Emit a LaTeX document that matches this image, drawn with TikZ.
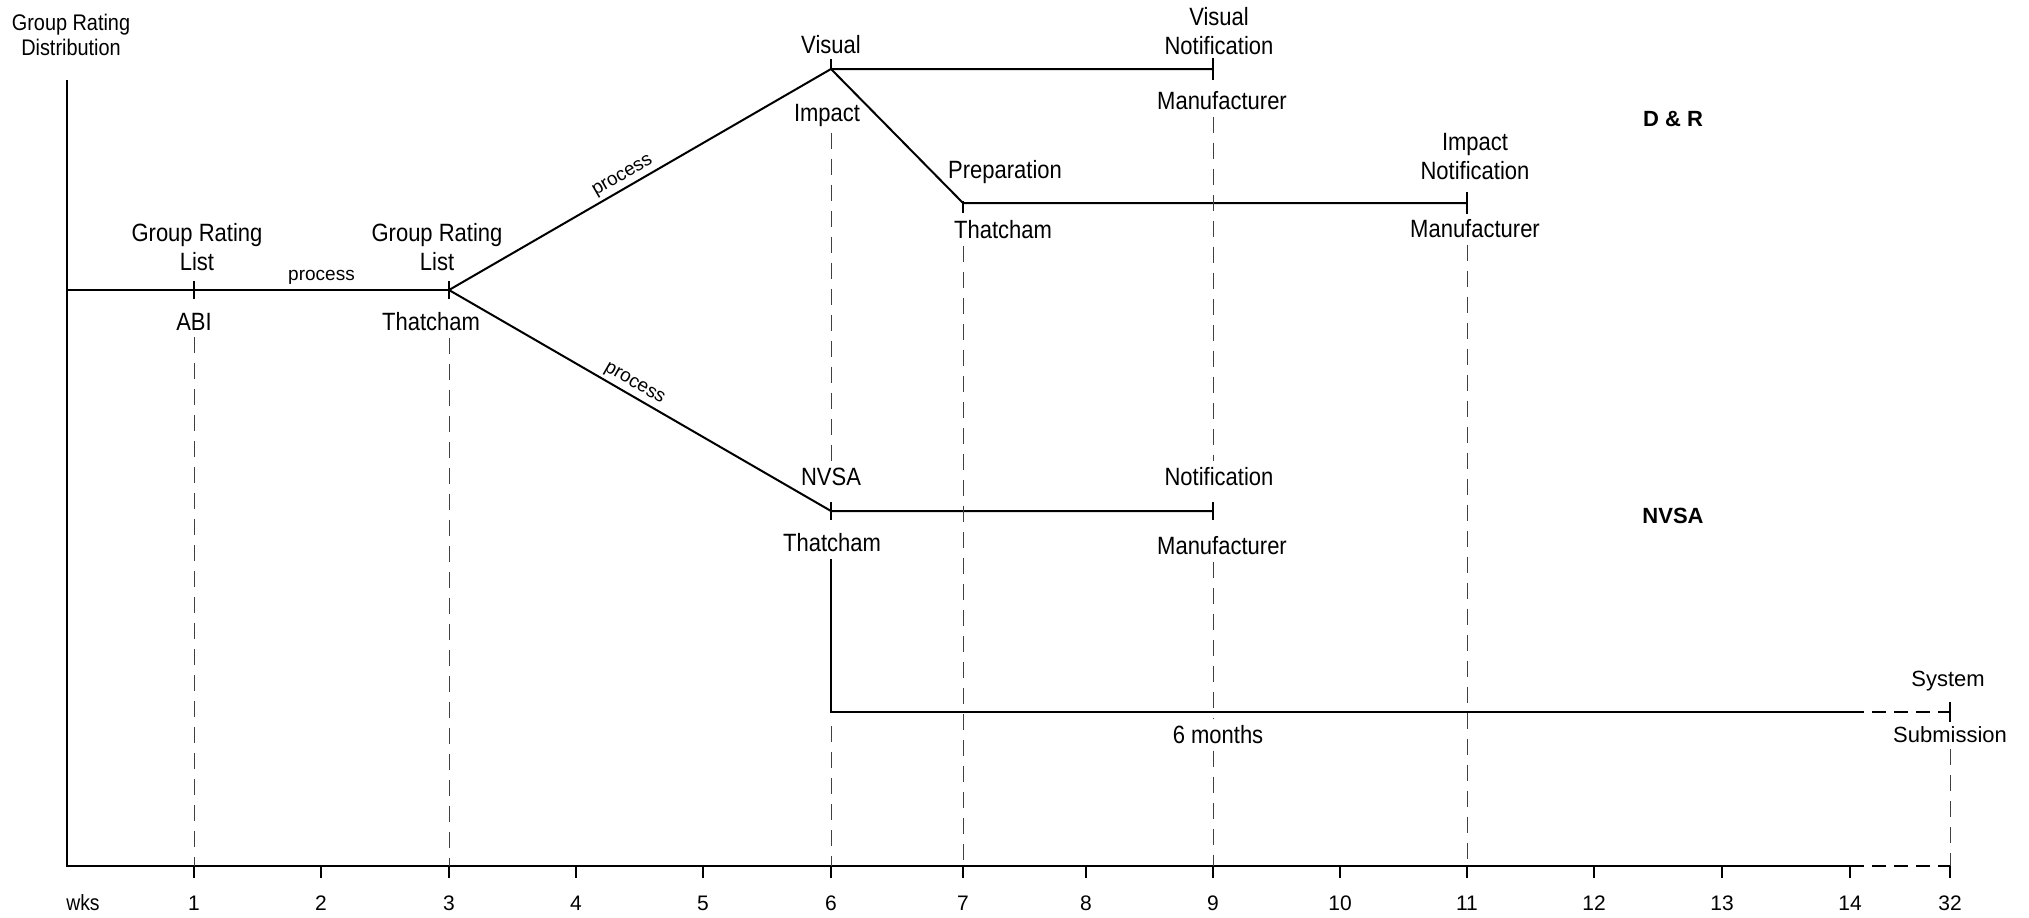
\documentclass[tikz,border=0pt]{standalone}
\usepackage{fontspec}
\setmainfont[FakeStretch=0.88]{Liberation Sans}
\newfontfamily\widefont{Liberation Sans}
\begin{document}
\begin{tikzpicture}[x=0.5pt,y=-0.5pt,
  lbl/.style={font=\fontsize{12.5}{14.5}\selectfont, align=center, inner sep=0pt},
  lblw/.style={font=\widefont\fontsize{11}{13}\selectfont, align=center, inner sep=0pt},
  proc/.style={font=\widefont\fontsize{9.5}{11}\selectfont, inner sep=1.5pt},
  boldlbl/.style={font=\widefont\bfseries\fontsize{11}{13}\selectfont, inner sep=0pt},
  axlbl/.style={font=\widefont\fontsize{10.5}{12}\selectfont, inner sep=0pt},
  flow/.style={line width=1pt},
  axisline/.style={line width=0.7pt},
  guide/.style={line width=0.5pt, black!75, dash pattern=on 8pt off 5pt, shorten <=3pt},
  tickm/.style={line width=0.8pt},
]
\useasboundingbox (0,0) rectangle (2029,917);

% axis coordinates
\coordinate (top) at (67,80);
\coordinate (o) at (67,866);
\foreach \n/\x in {1/194,2/321,3/449,4/576,5/703,6/831,7/963,8/1086,9/1213,10/1340,11/1467,12/1594,13/1722,14/1850,32/1950}{
  \coordinate (ax\n) at (\x,866);
  \draw[tickm] (ax\n) -- ++(0,12);
  \node[axlbl] (tl\n) at (\x,903) {\n};
}
\node[font=\fontsize{11}{12}\selectfont, inner sep=0pt] (wks) at (83,903) {wks};

\draw[axisline] (top) -- (o) -- (ax14);
\draw[axisline, dash pattern=on 7pt off 4pt] (ax14) -- (ax32);

% flow coordinates
\coordinate (start) at (67,290);
\coordinate (j1) at (194,290);
\coordinate (j3) at (449,290);
\coordinate (vis) at (831,69);
\coordinate (vn) at (1213,69);
\coordinate (prep) at (963,203);
\coordinate (inot) at (1467,203);
\coordinate (nv) at (831,511);
\coordinate (nn) at (1213,511);
\coordinate (nvb) at (831,559);
\coordinate (corner) at (831,712);
\coordinate (six14) at (1850,712);
\coordinate (sys) at (1950,712);

% flow lines
\draw[flow] (start) -- (j1) -- node[proc, above=1pt] {process} (j3);
\draw[flow] (j3) -- node[proc, sloped, above, pos=0.47] {process} (vis) -- (vn);
\draw[flow] (vis) -- (prep) -- (inot);
\draw[flow] (j3) -- node[proc, sloped, above, pos=0.47] {process} (nv) -- (nn);
\draw[flow] (nvb) -- (corner) -- (six14);
\draw[flow, dash pattern=on 7pt off 4pt] (six14) -- (sys);

% tick marks on flow lines
\draw[tickm] (j1) ++(0,-9) -- ++(0,18);
\draw[tickm] (j3) ++(0,-9) -- ++(0,18);
\draw[tickm] (vis) ++(0,-10) -- ++(0,10);
\draw[tickm] (vn) ++(0,-11) -- ++(0,22);
\draw[tickm] (prep) ++(0,-2) -- ++(0,12);
\draw[tickm] (inot) ++(0,-11) -- ++(0,22);
\draw[tickm] (nv) ++(0,-9) -- ++(0,18);
\draw[tickm] (nn) ++(0,-9) -- ++(0,18);
\draw[tickm] (sys) ++(0,-10) -- ++(0,20);

% labels
\node[font=\fontsize{11.3}{12.5}\selectfont, align=center, inner sep=0pt] (grd) at (71,35) {Group Rating\\Distribution};
\node[lbl] (grl1) at (197,247) {Group Rating\\List};
\node[lbl] (abi) at (194,322) {ABI};
\node[lbl] (grl2) at (437,247) {Group Rating\\List};
\node[lbl] (th1) at (431,322) {Thatcham};
\node[lbl] (visL) at (831,45) {Visual};
\node[lbl] (impL) at (827,115) {Impact};
\node[lbl] (vnL) at (1219,31) {Visual\\Notification};
\node[lbl] (vmL) at (1222,101) {Manufacturer};
\node[lbl] (prepL) at (1005,172) {Preparation};
\node[lbl] (th2) at (1003,230) {Thatcham};
\node[lbl] (inL) at (1475,157) {Impact\\Notification};
\node[lbl] (imL) at (1475,229) {Manufacturer};
\node[boldlbl] (dr) at (1673,119) {D \& R};
\node[lbl] (nvL) at (831,477) {NVSA};
\node[lbl] (th3) at (832,543) {Thatcham};
\node[lbl] (nnL) at (1219,477) {Notification};
\node[lbl] (nmL) at (1222,546) {Manufacturer};
\node[boldlbl] (nvsaR) at (1673,516) {NVSA};
\node[lbl] (six) at (1218,735) {6 months};
\node[lblw] (sysL) at (1948,681) {System};
\node[lblw] (subL) at (1950,735) {Submission};

% guide lines
\draw[guide] (abi.south) -- (ax1);
\draw[guide] (th1.south -| ax3) -- (ax3);
\draw[guide, shorten >=3pt] (impL.south -| ax6) -- (nvL.north -| ax6);
\draw[guide, shorten <=7pt] (corner) -- (ax6);
\draw[guide] (th2.south -| ax7) -- (ax7);
\draw[guide, shorten >=3pt] (vmL.south -| ax9) -- (nnL.north -| ax9);
\draw[guide, shorten >=3pt] (nmL.south -| ax9) -- (six.north -| ax9);
\draw[guide] (six.south -| ax9) -- (ax9);
\draw[guide] (imL.south -| ax11) -- (ax11);
\draw[guide] (subL.south -| ax32) -- (ax32);
\end{tikzpicture}
\end{document}
